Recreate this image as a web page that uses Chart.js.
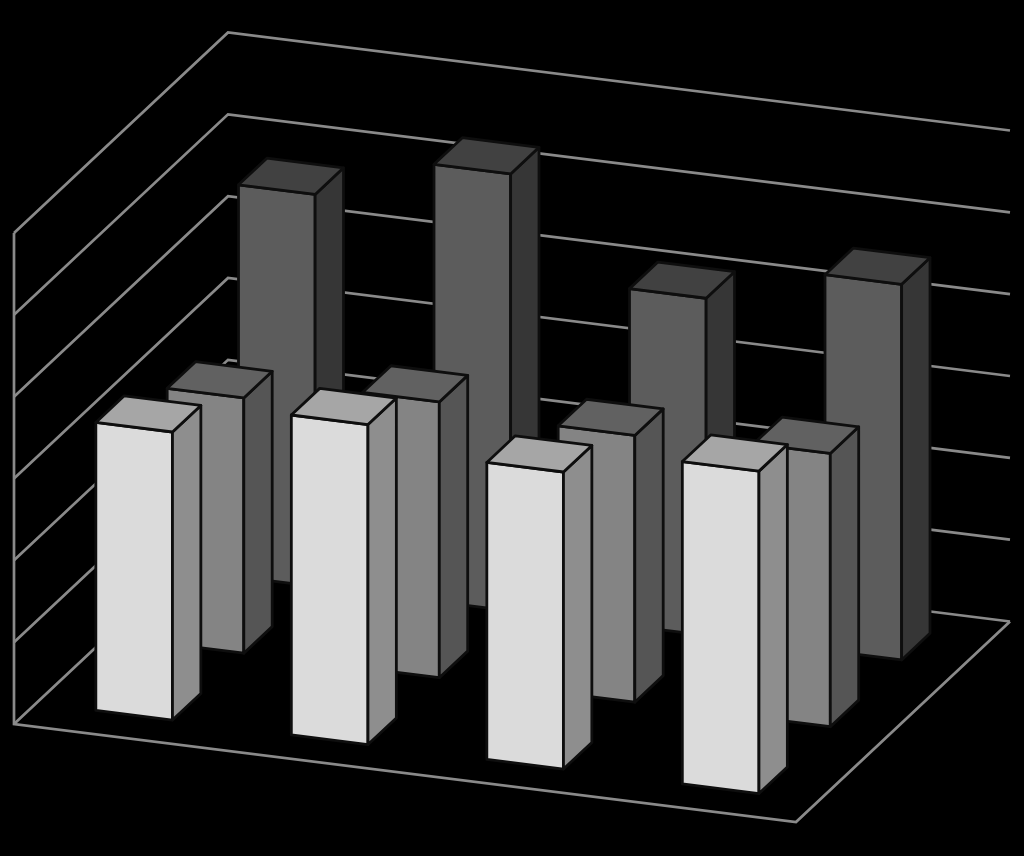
<!DOCTYPE html>
<html>
<head>
<meta charset="utf-8">
<title>3D column chart</title>
<script src="https://cdn.jsdelivr.net/npm/chart.js@4"></script>
<style>
html,body{margin:0;padding:0;background:#000;}
canvas{display:block;}
</style>
</head>
<body>
<canvas id="c" width="1024" height="856"></canvas>
<script>
const categories = ["1", "2", "3", "4"];
const seriesNames = ["Front", "Middle", "Back"];
const frontValues = [3.52, 3.91, 3.63, 3.94];
const middleValues = [3.12, 3.37, 3.26, 3.34];
const backValues = [4.79, 5.34, 4.12, 4.59];
const valueTicks = [0, 1, 2, 3, 4, 5, 6];

const frontColors = ["#dbdbdb", "#848484", "#5c5c5c"];
const sideColors = ["#8e8e8e", "#555555", "#363636"];
const topColors = ["#a6a6a6", "#616161", "#414141"];

// Oblique projection of the plot's floor
const DEPTH_DX = 214, DEPTH_DY = -200.5;
const SLOPE = 98 / 782;
const ROW_START = 0.314, ROW_DEPTH = 0.398;
const GRID_COLOR = "#8a8a8a", EDGE_COLOR = "#0e0e0e";

function project(chart, px, py, depth) {
  const z = chart.scales.z;
  const p0 = z.getPixelForValue(z.min), p1 = z.getPixelForValue(z.max);
  const d = (z.getPixelForValue(depth) - p0) / (p1 - p0);
  return [px + d * DEPTH_DX, py + (px - chart.chartArea.left) * SLOPE + d * DEPTH_DY];
}
function polygon(ctx, pts, fill) {
  ctx.beginPath();
  pts.forEach((p, i) => i ? ctx.lineTo(p[0], p[1]) : ctx.moveTo(p[0], p[1]));
  ctx.closePath();
  ctx.fillStyle = fill;
  ctx.fill();
  ctx.stroke();
}

class Prism extends Chart.BarElement {
  draw(ctx) {
    const o = this.options, chart = this.$chart, row = this.$row;
    const l = this.x - this.width / 2, r = this.x + this.width / 2;
    const a = row + ROW_START, b = a + ROW_DEPTH;
    const P = (x, y, d) => project(chart, x, y, d);
    ctx.save();
    ctx.strokeStyle = o.borderColor;
    ctx.lineWidth = 2.8;
    ctx.lineJoin = "round";
    polygon(ctx, [P(l, this.base, a), P(r, this.base, a), P(r, this.y, a), P(l, this.y, a)], o.backgroundColor);
    polygon(ctx, [P(r, this.base, a), P(r, this.base, b), P(r, this.y, b), P(r, this.y, a)], sideColors[row]);
    polygon(ctx, [P(l, this.y, a), P(r, this.y, a), P(r, this.y, b), P(l, this.y, b)], topColors[row]);
    ctx.restore();
  }
}
Prism.id = "prism";
Prism.defaults = Chart.BarElement.defaults;
Prism.defaultRoutes = Chart.BarElement.defaultRoutes;

class Bar3D extends Chart.BarController {
  draw() {
    this._cachedMeta.data.forEach(el => {
      el.$chart = this.chart;
      el.$row = this.index;
    });
    super.draw();
  }
}
Bar3D.id = "bar3d";
Bar3D.defaults = Object.assign({}, Chart.BarController.defaults, { dataElementType: "prism" });
Bar3D.overrides = Chart.BarController.overrides;
Chart.register(Prism, Bar3D);

const walls = {
  id: "walls",
  beforeDatasetsDraw(chart) {
    const { ctx, chartArea: a, scales: { y, z } } = chart;
    ctx.save();
    ctx.strokeStyle = GRID_COLOR;
    ctx.lineWidth = 2.7;
    ctx.lineJoin = "miter";
    valueTicks.forEach(t => {
      const py = y.getPixelForValue(t);
      const front = project(chart, a.left, py, z.min);
      const back = project(chart, a.left, py, z.max);
      const far = project(chart, a.right, py, z.max);
      ctx.beginPath();
      ctx.moveTo(front[0], front[1]);
      ctx.lineTo(back[0], back[1]);
      ctx.lineTo(far[0], far[1]);
      ctx.stroke();
    });
    const base = y.getPixelForValue(0);
    const fl = project(chart, a.left, base, z.min);
    const fr = project(chart, a.right, base, z.min);
    const br = project(chart, a.right, base, z.max);
    const top = project(chart, a.left, y.getPixelForValue(6), z.min);
    ctx.beginPath();
    ctx.moveTo(top[0], top[1]);
    ctx.lineTo(fl[0], fl[1]);
    ctx.lineTo(fr[0], fr[1]);
    ctx.lineTo(br[0], br[1]);
    ctx.stroke();
    ctx.restore();
  }
};

const seriesValues = [frontValues, middleValues, backValues];
new Chart(document.getElementById("c"), {
  type: "bar3d",
  data: {
    labels: categories,
    datasets: seriesNames.map((name, i) => ({
      label: name,
      data: seriesValues[i],
      backgroundColor: frontColors[i],
      borderColor: EDGE_COLOR,
      grouped: false,
      clip: false,
      barPercentage: 1,
      categoryPercentage: 0.392
    }))
  },
  options: {
    responsive: false,
    animation: false,
    events: [],
    layout: { padding: { left: 14, right: 228, top: 233, bottom: 132 } },
    plugins: { legend: { display: false }, tooltip: { enabled: false }, title: { display: false } },
    scales: {
      x: { type: "category", offset: true, display: false },
      y: { type: "linear", min: 0, max: 6, display: false },
      z: { type: "linear", axis: "x", min: 0, max: 3, display: false }
    }
  },
  plugins: [walls]
});
</script>
</body>
</html>
